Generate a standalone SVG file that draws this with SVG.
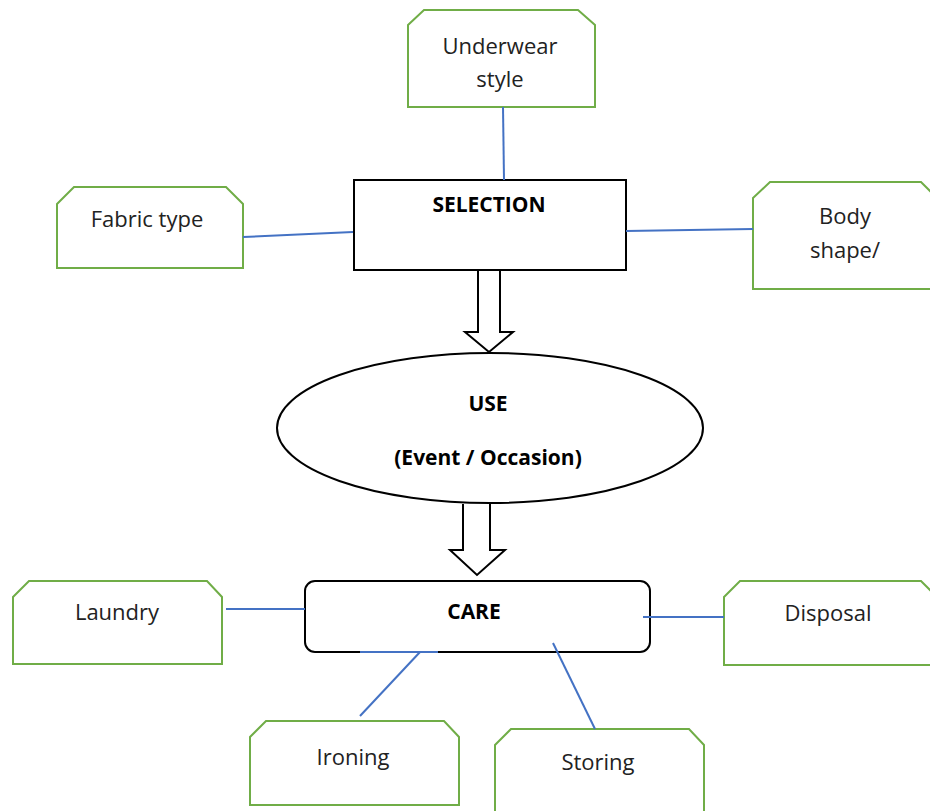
<svg xmlns="http://www.w3.org/2000/svg" width="930" height="811" viewBox="0 0 930 811">
<style>
.g{fill:#fff;stroke:#70ad47;stroke-width:2}
.k{fill:#fff;stroke:#000;stroke-width:2}
.c{stroke:#4472c4;stroke-width:2;fill:none}
text{font-family:"Open Sans","Noto Sans",sans-serif;font-size:22px;fill:#222;text-anchor:middle}
.b{font-weight:bold;fill:#000;font-size:21px}
</style>
<rect width="930" height="811" fill="#fff"/>
<g id="selection"><rect class="k" x="354" y="180" width="272" height="90"/><text class="b" x="489" y="212">SELECTION</text></g>
<g id="use"><ellipse class="k" cx="490" cy="428" rx="213" ry="75"/><text class="b" x="488" y="411">USE</text><text class="b" x="488" y="465">(Event / Occasion)</text></g>
<g id="care"><rect class="k" x="305" y="581" width="345" height="71" rx="10"/><text class="b" x="474" y="619">CARE</text></g>
<g id="underwear"><path class="g" d="M408 25 L424 10 L578 10 L595 25 L595 107 L408 107 Z"/><text x="500" y="54">Underwear</text><text x="500" y="87">style</text></g>
<g id="fabric"><path class="g" d="M57 204 L74 187 L226 187 L243 204 L243 268 L57 268 Z"/><text x="147" y="227">Fabric type</text></g>
<g id="body"><path class="g" d="M753 198 L770 182 L921 182 L937 198 L937 289 L753 289 Z"/><text x="845" y="224">Body</text><text x="845" y="258">shape/</text></g>
<g id="laundry"><path class="g" d="M13 597 L29 581 L207 581 L222 597 L222 664 L13 664 Z"/><text x="117" y="620">Laundry</text></g>
<g id="disposal"><path class="g" d="M724 597 L740 581 L921 581 L937 597 L937 665 L724 665 Z"/><text x="828" y="621">Disposal</text></g>
<g id="ironing"><path class="g" d="M250 737 L266 721 L444 721 L459 737 L459 805 L250 805 Z"/><text x="353" y="765">Ironing</text></g>
<g id="storing"><path class="g" d="M495 745 L511 729 L689 729 L704 745 L704 830 L495 830 Z"/><text x="598" y="770">Storing</text></g>
<g id="connectors">
<line class="c" x1="503" y1="107" x2="504" y2="180"/>
<line class="c" x1="243" y1="237" x2="353" y2="232"/>
<line class="c" x1="626" y1="231" x2="753" y2="229"/>
<line class="c" x1="226" y1="609" x2="305" y2="609"/>
<line class="c" x1="643" y1="617" x2="724" y2="617"/>
<line class="c" x1="360" y1="652" x2="438" y2="652"/>
<line class="c" x1="420" y1="652" x2="360" y2="716"/>
<line class="c" x1="553" y1="643" x2="595" y2="729"/>
<path class="k" d="M478 271 L478 332 L465 332 L489 352 L513 332 L500 332 L500 271"/>
<path class="k" d="M463 504 L463 550 L450 550 L477 575 L505 550 L490 550 L490 504"/>
</g>
</svg>
